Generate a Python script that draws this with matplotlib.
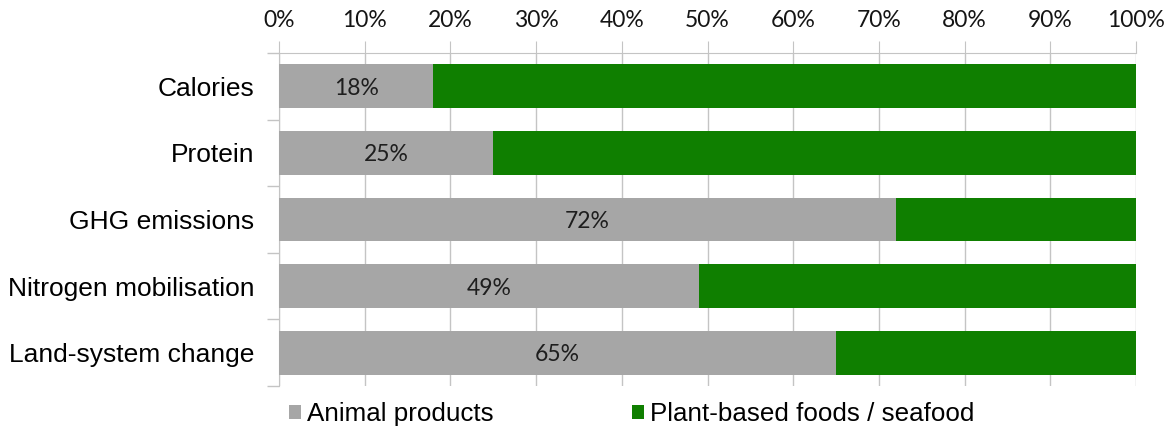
import numpy as np
import matplotlib
matplotlib.use("Agg")
import matplotlib.pyplot as plt
from matplotlib.ticker import MultipleLocator, PercentFormatter

# data
categories = ['Calories', 'Protein', 'GHG emissions', 'Nitrogen mobilisation', 'Land-system change']
animal = [18, 25, 72, 49, 65]      # % from animal products
plant = [100 - a for a in animal]  # rest is plant-based / seafood
series_names = ['Animal products', 'Plant-based foods / seafood']

gray = '#A6A6A6'
green = '#0F7F00'
grid_col = '#C4C4C4'

fig = plt.figure(figsize=(11.69, 4.26), dpi=100)
ax = fig.add_axes([279/1169, 1 - 386/426, (1136-279)/1169, (386-53)/426])

y = np.arange(len(categories))
b1 = ax.barh(y, animal, height=0.66, color=gray, label=series_names[0], zorder=3)
b2 = ax.barh(y, plant, left=animal, height=0.66, color=green, label=series_names[1], zorder=3)

# percent labels in the grey part
for yi, v in zip(y, animal):
    ax.text(v / 2, yi + 0.03, f'{v}%', ha='center', va='center', fontsize=16.5,
            family='Lato', color='#1e1e1e', zorder=4)

ax.set_xlim(0, 100)
ax.set_ylim(len(categories) - 0.5, -0.5)
ax.xaxis.set_major_locator(MultipleLocator(10))
ax.xaxis.set_major_formatter(PercentFormatter(decimals=0))
ax.xaxis.tick_top()
ax.tick_params(axis='x', which='major', length=9, color=grid_col, pad=7,
               labelsize=16.5, labelcolor='#151515')
for lab in ax.get_xticklabels():
    lab.set_family('Lato')
ax.grid(axis='x', color=grid_col, linewidth=1, zorder=0)

ax.set_yticks(y)
ax.set_yticklabels(categories, fontsize=19, family='Liberation Sans')
ax.set_yticks(np.arange(-0.5, len(categories)), minor=True)
ax.tick_params(axis='y', which='major', length=0, pad=18)
ax.tick_params(axis='y', which='minor', length=9, color=grid_col, width=1)

for s in ['right', 'bottom']:
    ax.spines[s].set_visible(False)
ax.spines['left'].set_color(grid_col)
ax.spines['top'].set_color(grid_col)

leg = fig.legend(handles=[b1, b2], loc='center left', bbox_to_anchor=(289/1169, 1 - 414/426),
                 ncol=2, frameon=False, borderpad=0, borderaxespad=0,
                 handlelength=0.46, handleheight=0.46, handletextpad=0.25,
                 columnspacing=5.3, prop={'family': 'Liberation Sans', 'size': 18.7})

fig.savefig('out.png', dpi=100)
